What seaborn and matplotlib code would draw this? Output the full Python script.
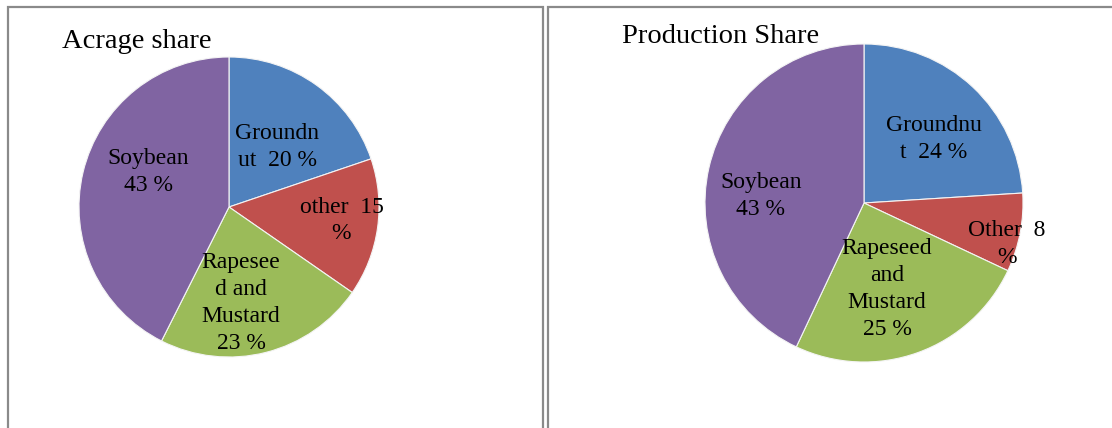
import matplotlib
matplotlib.use("Agg")
import matplotlib.pyplot as plt
from matplotlib.patches import Rectangle
import seaborn as sns

# Oilseed shares (%), slices run clockwise from 12 o'clock
crops = ["Groundnut", "Other", "Rapeseed and Mustard", "Soybean"]
acreage_share = [20, 15, 23, 43]
production_share = [24, 8, 25, 43]

acreage_labels = ["Groundn\nut  20 %", "other  15\n%", "Rapesee\nd and\nMustard\n23 %", "Soybean\n43 %"]
production_labels = ["Groundnu\nt  24 %", "Other  8\n%", "Rapeseed\nand\nMustard\n25 %", "Soybean\n43 %"]

titles = ["Acrage share", "Production Share"]

sns.set_theme(style="white")
palette = sns.color_palette(["#4F81BD", "#C0504D", "#9BBB59", "#8064A2"])
plt.rcParams["font.family"] = ["Liberation Serif", "DejaVu Serif"]

W, H = 1112, 428
fig = plt.figure(figsize=(W / 100, H / 100), dpi=100)
ax = fig.add_axes([0, 0, 1, 1])
ax.set_xlim(0, W)
ax.set_ylim(0, H)
ax.set_aspect("equal")
ax.axis("off")

# panel frames (open at the bottom)
frame_kw = dict(fill=False, edgecolor="#8a8a8a", linewidth=1.6)
ax.add_patch(Rectangle((8, -10), 535, H - 7 + 10, **frame_kw))
ax.add_patch(Rectangle((548, -10), 600, H - 7 + 10, **frame_kw))

# pie layout: centre, radius, title anchor, label offsets (fractions of radius)
panels = [
    dict(values=acreage_share, labels=acreage_labels, title=titles[0],
         center=(229, H - 207), radius=150, title_xy=(62, H - 48),
         offsets=[(0.32, 0.40), (0.75, -0.09), (0.08, -0.64), (-0.54, 0.235)]),
    dict(values=production_share, labels=production_labels, title=titles[1],
         center=(864, H - 203), radius=159, title_xy=(622, H - 43),
         offsets=[(0.44, 0.40), (0.90, -0.255), (0.145, -0.54), (-0.65, 0.045)]),
]

for p in panels:
    cx, cy = p["center"]
    r = p["radius"]
    ax.pie(p["values"], colors=palette, startangle=90, counterclock=False,
           center=(cx, cy), radius=r, frame=True,
           wedgeprops=dict(edgecolor="#f4f4f4", linewidth=0.8))
    for lab, (fx, fy) in zip(p["labels"], p["offsets"]):
        ax.text(cx + fx * r, cy + fy * r, lab, ha="center", va="center",
                multialignment="center", fontsize=17, linespacing=1.37,
                color="black")
    ax.text(*p["title_xy"], p["title"], ha="left", va="baseline",
            fontsize=20.5, color="black")

# pie() resets limits when frame=True; restore the pixel canvas
ax.set_xlim(0, W)
ax.set_ylim(0, H)
ax.axis("off")

fig.savefig("out.png", dpi=100, facecolor="white")
